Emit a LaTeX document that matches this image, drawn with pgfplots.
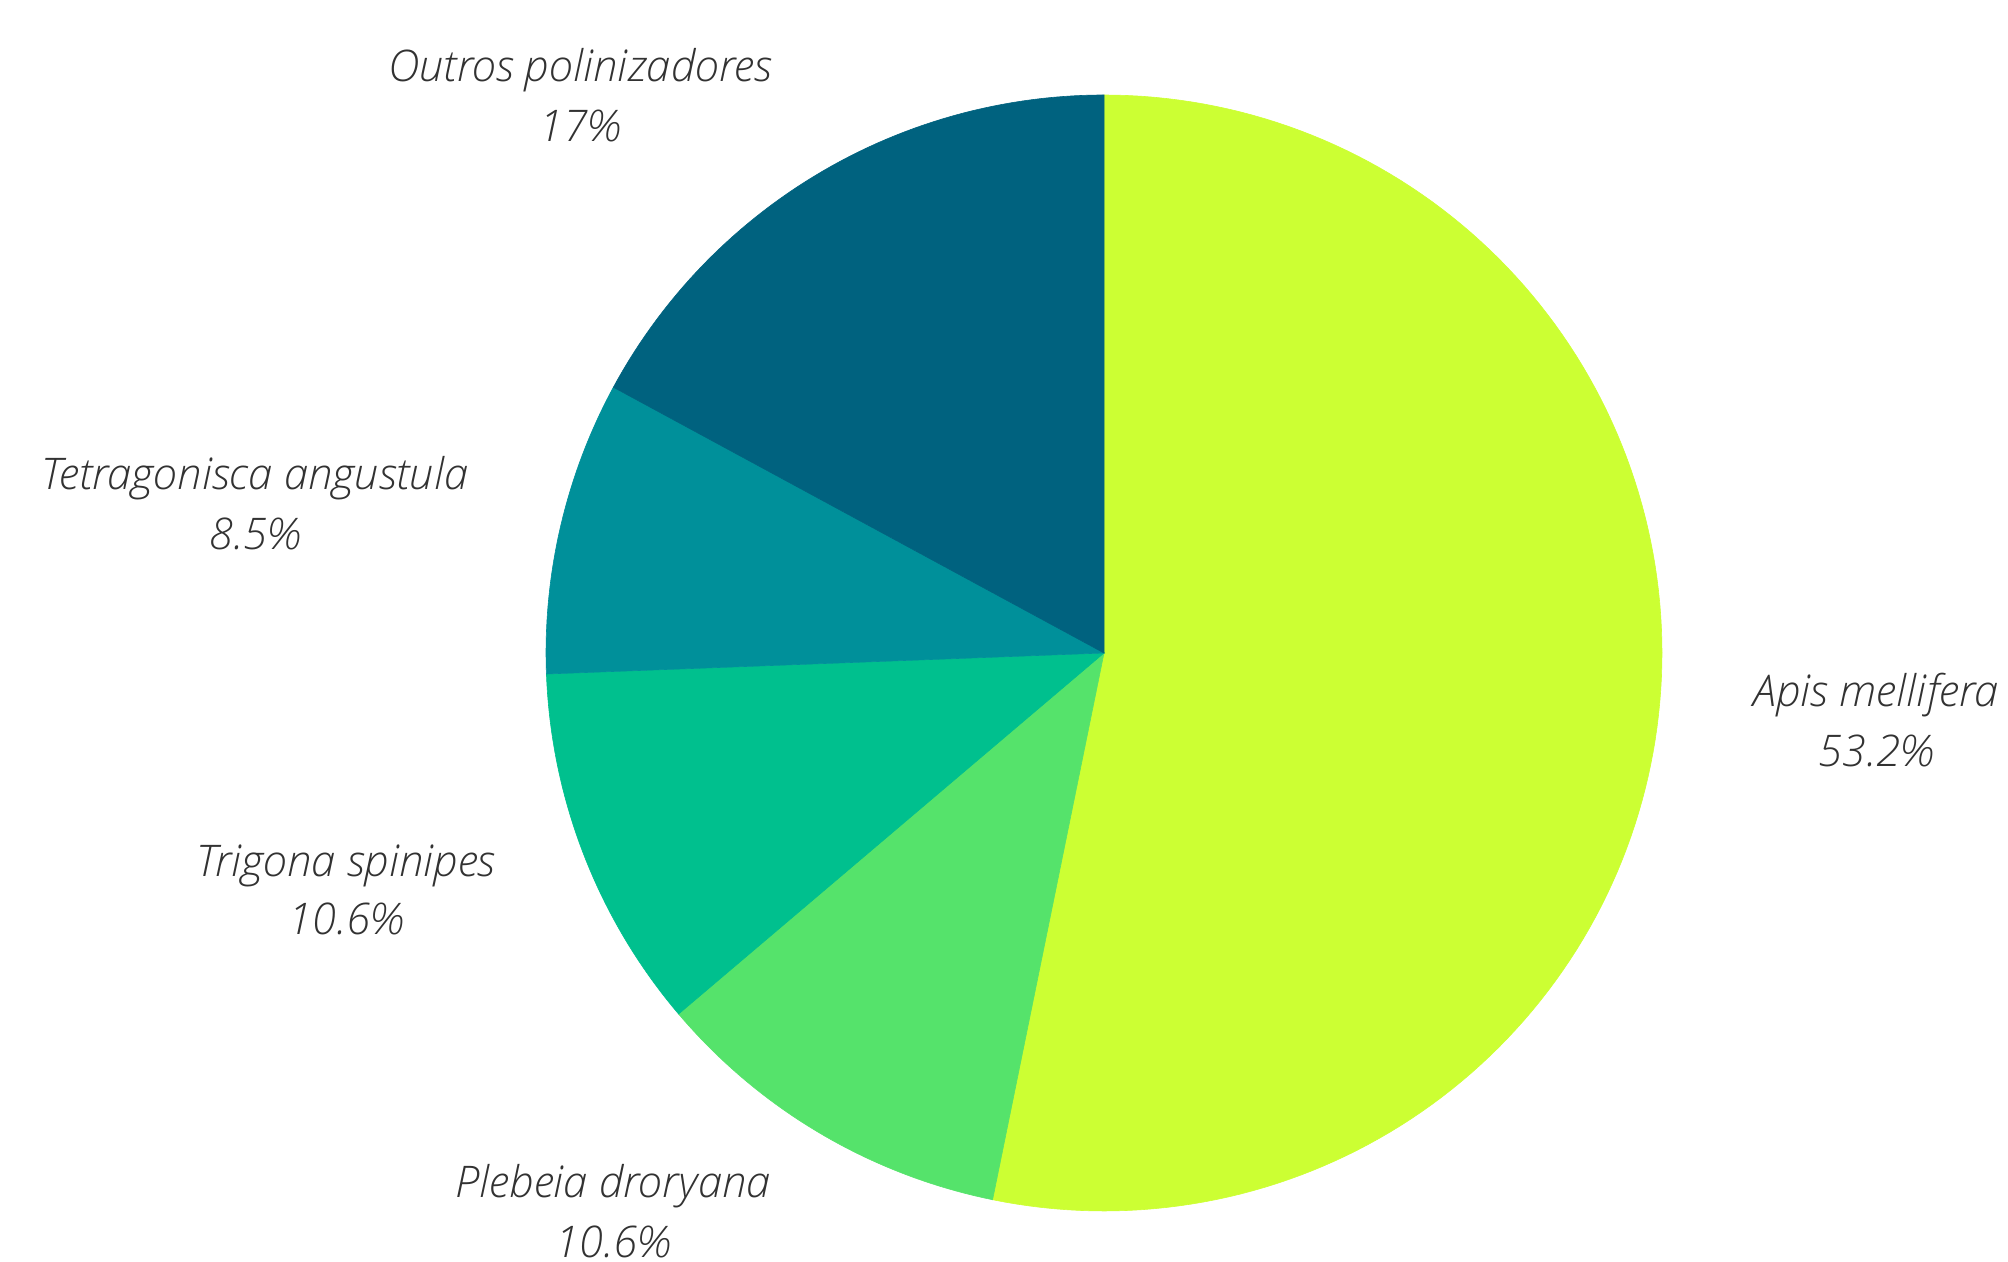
\documentclass[border=0pt]{standalone}
\usepackage{pgfplots}
\pgfplotsset{compat=1.18}
\usepackage{fontspec}
\setmainfont{Open Sans}[FontFace={l}{it}{Font=* Light Italic}]
\definecolor{cApis}{RGB}{204,255,51}
\definecolor{cPleb}{RGB}{85,227,107}
\definecolor{cTrig}{RGB}{0,192,142}
\definecolor{cTetr}{RGB}{0,144,154}
\definecolor{cOutr}{RGB}{0,98,127}
\definecolor{txt}{RGB}{50,50,50}
\tikzset{lbl/.style={font=\fontsize{21.8pt}{26pt}\selectfont\fontseries{l}\itshape, text=txt, anchor=base, inner sep=0pt}}
% percentages
\def\pApis{53.2}
\def\pPleb{10.6}
\def\pTrig{10.6}
\def\pTetr{8.5}
\def\pOutr{17}
\begin{document}
\begin{tikzpicture}
\path[use as bounding box, clip] (0,0) rectangle (1004pt,631pt);
\begin{axis}[
  width=1004pt, height=631pt, scale only axis,
  xmin=0, xmax=2008, ymin=0, ymax=1262,
  hide axis, clip=false,
]
\def\cx{1104}\def\cy{609}\def\R{558}
\pgfmathsetmacro\aA{90}
\pgfmathsetmacro\aB{\aA-3.6*\pApis}
\pgfmathsetmacro\aC{\aB-3.6*\pPleb}
\pgfmathsetmacro\aD{\aC-3.6*\pTrig}
\pgfmathsetmacro\aE{\aD-3.6*\pTetr}
\pgfmathsetmacro\aF{-270}
\addplot[fill=cApis, draw=cApis, line width=0.3pt, domain=\aB:\aA, samples=150, variable=\t] ({\cx+\R*cos(t)},{\cy+\R*sin(t)}) -- (axis cs:\cx,\cy) -- cycle;
\addplot[fill=cPleb, draw=cPleb, line width=0.3pt, domain=\aC:\aB, samples=40, variable=\t] ({\cx+\R*cos(t)},{\cy+\R*sin(t)}) -- (axis cs:\cx,\cy) -- cycle;
\addplot[fill=cTrig, draw=cTrig, line width=0.3pt, domain=\aD:\aC, samples=40, variable=\t] ({\cx+\R*cos(t)},{\cy+\R*sin(t)}) -- (axis cs:\cx,\cy) -- cycle;
\addplot[fill=cTetr, draw=cTetr, line width=0.3pt, domain=\aE:\aD, samples=40, variable=\t] ({\cx+\R*cos(t)},{\cy+\R*sin(t)}) -- (axis cs:\cx,\cy) -- cycle;
\addplot[fill=cOutr, draw=cOutr, line width=0.3pt, domain=\aF:\aE, samples=60, variable=\t] ({\cx+\R*cos(t)},{\cy+\R*sin(t)}) -- (axis cs:\cx,\cy) -- cycle;
\node[lbl] at (axis cs:580,1180) {Outros polinizadores};
\node[lbl] at (axis cs:580,1120) {17\%};
\node[lbl] at (axis cs:255,772) {Tetragonisca angustula};
\node[lbl] at (axis cs:255,712) {8.5\%};
\node[lbl] at (axis cs:1876,555) {Apis mellifera};
\node[lbl] at (axis cs:1876,495) {53.2\%};
\node[lbl] at (axis cs:346,385) {Trigona spinipes};
\node[lbl] at (axis cs:346,327) {10.6\%};
\node[lbl] at (axis cs:613,64) {Plebeia droryana};
\node[lbl] at (axis cs:613,4) {10.6\%};
\end{axis}
\end{tikzpicture}
\end{document}
